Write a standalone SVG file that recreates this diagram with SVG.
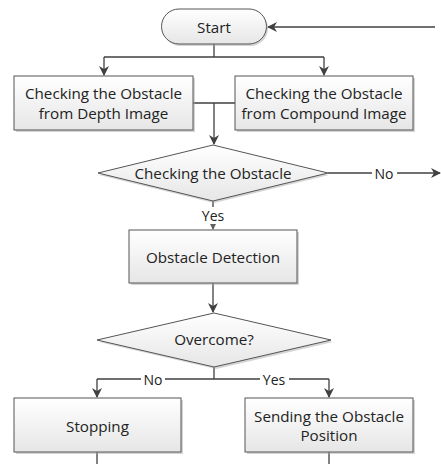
<svg xmlns="http://www.w3.org/2000/svg" width="441" height="464" viewBox="0 0 441 464">
<style>
.n{fill:url(#g);stroke:#555;stroke-width:1}
.sh{fill:#aaa;opacity:0.5}
.t{font-family:"Open Sans","DejaVu Sans",sans-serif;font-size:15.2px;fill:#222;text-anchor:middle;dominant-baseline:central}
.c{fill:none;stroke:#404040;stroke-width:1.3}
.l{font-family:"Open Sans","DejaVu Sans",sans-serif;font-size:14px;fill:#222;text-anchor:middle;dominant-baseline:central}
.bg{fill:#fff}
</style>
<defs>
<linearGradient id="g" x1="0" y1="0" x2="0" y2="1">
<stop offset="0" stop-color="#ffffff"/>
<stop offset="1" stop-color="#e6e6e6"/>
</linearGradient>
<marker id="a" markerWidth="10" markerHeight="10" refX="9" refY="5" orient="auto" markerUnits="userSpaceOnUse">
<path d="M0,0 L10,5 L0,10 L3,5 z" fill="#404040"/>
</marker>
<marker id="s" markerWidth="7" markerHeight="7" refX="6" refY="3.5" orient="auto" markerUnits="userSpaceOnUse">
<path d="M0,0 L7,3.5 L0,7 z" fill="#606060"/>
</marker>
</defs>
<rect width="441" height="464" fill="#fff"/>
<g id="connectors">
<path class="c" d="M435,27 H268" marker-end="url(#a)"/>
<path class="c" d="M214,44 V57 M104,57 H324"/>
<path class="c" d="M104,57 V75" marker-end="url(#a)"/>
<path class="c" d="M324,57 V75" marker-end="url(#a)"/>
<path class="c" d="M193,103 H235 M214,103 V144" marker-end="url(#a)"/>
<path class="c" d="M328,173 H440" marker-end="url(#a)"/>
<path class="c" d="M213,201 V229" marker-end="url(#s)"/>
<path class="c" d="M213,283 V312" marker-end="url(#a)"/>
<path class="c" d="M214,367 V379 M97,379 H329"/>
<path class="c" d="M97,379 V397" marker-end="url(#a)"/>
<path class="c" d="M329,379 V397" marker-end="url(#a)"/>
<path class="c" d="M97,452 V464 M329,452 V464"/>
<rect class="bg" x="372" y="165" width="25" height="16"/>
<text class="l" x="384" y="173">No</text>
<rect class="bg" x="198" y="207" width="30" height="17"/>
<text class="l" x="213" y="215">Yes</text>
<rect class="bg" x="141" y="371" width="24" height="16"/>
<text class="l" x="153" y="379">No</text>
<rect class="bg" x="260" y="371" width="29" height="16"/>
<text class="l" x="274" y="379">Yes</text>
</g>
<g id="start">
<rect class="sh" x="163" y="11" width="105" height="35" rx="17.5"/>
<rect class="n" x="161.5" y="9" width="105" height="35" rx="17.5"/>
<text class="t" x="214" y="26.5">Start</text>
</g>
<g id="depth">
<rect class="sh" x="16" y="78" width="179" height="54"/>
<rect class="n" x="14" y="76" width="179" height="54"/>
<text class="t" x="103.5" y="93">Checking the Obstacle</text>
<text class="t" x="103.5" y="113">from Depth Image</text>
</g>
<g id="compound">
<rect class="sh" x="237" y="78" width="178" height="54"/>
<rect class="n" x="235" y="76" width="178" height="54"/>
<text class="t" x="324" y="93">Checking the Obstacle</text>
<text class="t" x="324" y="113">from Compound Image</text>
</g>
<g id="check">
<polygon class="sh" points="214,147 329,175 214,203 99,175"/>
<polygon class="n" points="213,145 328,173 213,201 98,173"/>
<text class="t" x="213" y="173">Checking the Obstacle</text>
</g>
<g id="detection">
<rect class="sh" x="131" y="232" width="168" height="53"/>
<rect class="n" x="129" y="230" width="168" height="53"/>
<text class="t" x="213" y="256.5">Obstacle Detection</text>
</g>
<g id="overcome">
<polygon class="sh" points="216,315 333,342 216,369 99,342"/>
<polygon class="n" points="214,313 331,340 214,367 97,340"/>
<text class="t" x="214" y="339">Overcome?</text>
</g>
<g id="stopping">
<rect class="sh" x="16" y="400" width="167" height="54"/>
<rect class="n" x="14" y="398" width="167" height="54"/>
<text class="t" x="97.5" y="426">Stopping</text>
</g>
<g id="sending">
<rect class="sh" x="247" y="400" width="168" height="54"/>
<rect class="n" x="245" y="398" width="168" height="54"/>
<text class="t" x="329" y="416">Sending the Obstacle</text>
<text class="t" x="329" y="435">Position</text>
</g>
</svg>
